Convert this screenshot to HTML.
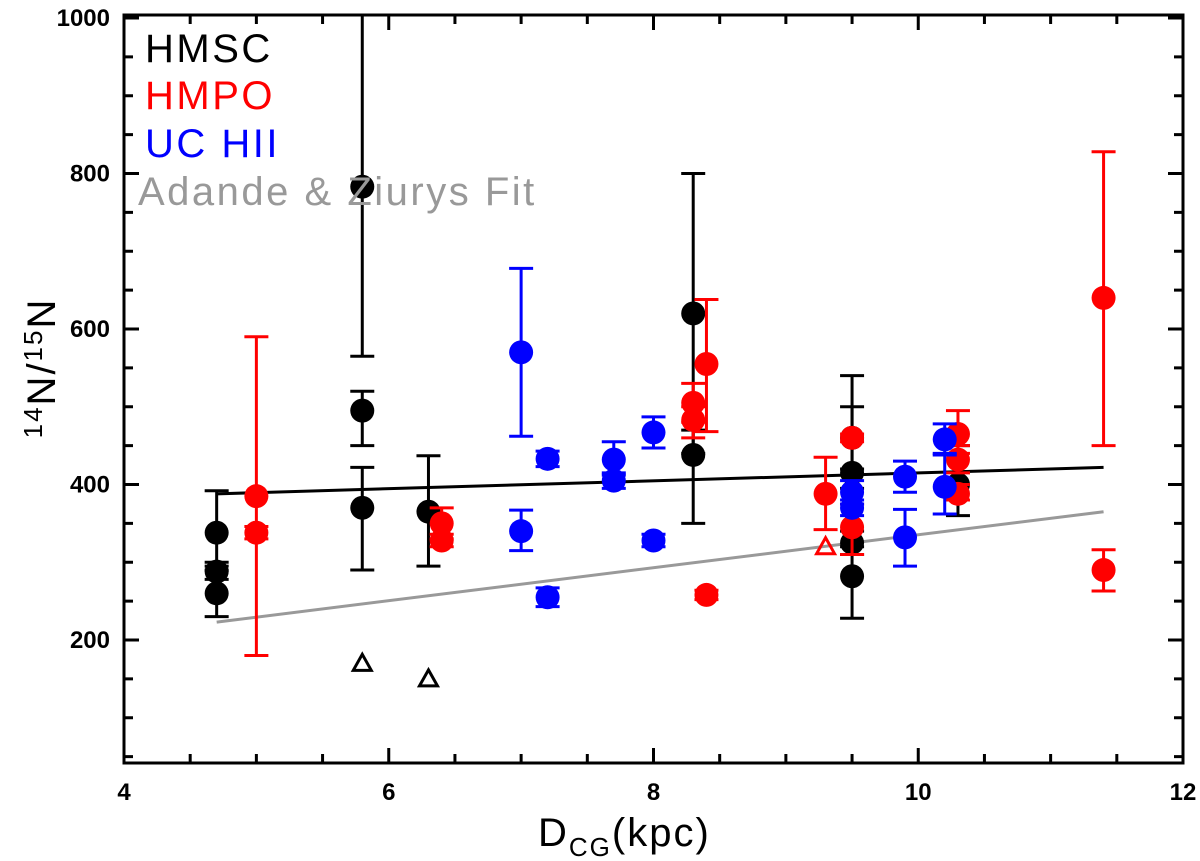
<!DOCTYPE html>
<html><head><meta charset="utf-8"><style>
html,body{margin:0;padding:0;background:#fff;}
svg{display:block;font-family:"Liberation Sans",sans-serif;}
</style></head><body>
<svg id="chart" width="1200" height="861" viewBox="0 0 1200 861" xmlns="http://www.w3.org/2000/svg">
<g id="marks"></g>
<g id="axes"></g>
<g font-size="40" letter-spacing="2.5">
<text x="145" y="62" fill="#000">HMSC</text>
<text x="145" y="109" fill="#ff0000">HMPO</text>
<text x="145" y="157" fill="#0000ff">UC  HII</text>
<text x="138" y="205" fill="#999">Adande &amp; Ziurys Fit</text>
</g>
<text x="538" y="846" font-size="40" letter-spacing="2">D<tspan font-size="26" dy="10">CG</tspan><tspan dy="-10">(kpc)</tspan></text>
<text transform="translate(55,368) rotate(-90)" text-anchor="middle" font-size="40" letter-spacing="2"><tspan font-size="26" dy="-13">14</tspan><tspan dy="13">N/</tspan><tspan font-size="26" dy="-13">15</tspan><tspan dy="13">N</tspan></text>
</svg>
<script>
const xTicks = [4, 6, 8, 10, 12];
const yTicks = [200, 400, 600, 800, 1000];
const hmscX = [4.7, 4.7, 4.7, 5.8, 5.8, 5.8, 6.3, 8.3, 8.3, 9.5, 9.5, 9.5, 9.5, 10.3];
const hmscY = [338, 288, 260, 783, 495, 370, 365, 620, 438, 460, 415, 325, 282, 400];
const hmscLo = [300, 278, 230, 565, 450, 290, 295, 440, 350, 420, 395, 310, 228, 360];
const hmscHi = [392, 295, 290, 1040, 520, 422, 437, 800, 470, 540, 500, 340, 320, 450];
const hmpoX = [5.0, 5.0, 6.4, 6.4, 8.3, 8.3, 8.4, 8.4, 9.3, 9.5, 9.5, 10.3, 10.3, 10.3, 11.4, 11.4];
const hmpoY = [385, 338, 350, 328, 505, 483, 555, 258, 388, 345, 460, 465, 432, 388, 640, 290];
const hmpoLo = [180, 330, 330, 320, 480, 460, 468, 252, 342, 310, 455, 440, 415, 380, 450, 263];
const hmpoHi = [590, 346, 370, 336, 530, 500, 638, 264, 435, 375, 465, 495, 450, 400, 828, 316];
const uchiiX = [7.0, 7.0, 7.2, 7.2, 7.7, 7.7, 8.0, 8.0, 9.5, 9.5, 9.9, 9.9, 10.2, 10.2];
const uchiiY = [570, 340, 433, 255, 432, 405, 467, 328, 390, 370, 410, 332, 458, 397];
const uchiiLo = [462, 315, 423, 243, 412, 395, 447, 320, 375, 360, 390, 295, 438, 362];
const uchiiHi = [678, 367, 443, 267, 455, 415, 487, 336, 405, 380, 430, 368, 478, 440];
const triX = [5.8, 6.3, 9.3];
const triY = [170, 150, 320];
const triColor = ['#000', '#000', '#ff0000'];
const fitX = [4.7, 11.4];
const fitBlack = [388, 422];
const fitGray = [223, 365];

const X0 = 124, X1 = 1183, Y200 = 640, PPU = 155.5 / 200;
const sx = d => X0 + (d - 4) / 8 * (X1 - X0);
const sy = v => Y200 - (v - 200) * PPU;
const NS = 'http://www.w3.org/2000/svg';
const marks = document.getElementById('marks');
const axes = document.getElementById('axes');
function mk(tag, parent, attrs) {
  const e = document.createElementNS(NS, tag);
  for (const k in attrs) e.setAttribute(k, attrs[k]);
  parent.appendChild(e);
  return e;
}
const TOP = 15, BOT = 763;
const cl = v => Math.max(TOP, Math.min(BOT, v));

const lb = mk('line', marks, {x1: sx(fitX[0]), y1: sy(fitBlack[0]), x2: sx(fitX[1]), y2: sy(fitBlack[1]), stroke: '#000', 'stroke-width': 3});


const lg = mk('line', marks, {x1: sx(fitX[0]), y1: sy(fitGray[0]), x2: sx(fitX[1]), y2: sy(fitGray[1]), stroke: '#999', 'stroke-width': 3});



function series(xs, ys, lo, hi, color, name) {
  const g = mk('g', marks, {});
  
  
  for (let i = 0; i < xs.length; i++) {
    const x = sx(xs[i]);
    const eb = mk('path', g, {d: `M${x},${cl(sy(hi[i]))}V${cl(sy(lo[i]))}M${x-12},${sy(lo[i])}H${x+12}` + (sy(hi[i]) > TOP ? `M${x-12},${sy(hi[i])}H${x+12}` : ''), stroke: color, 'stroke-width': 3, fill: 'none'});
    
    
    const c = mk('circle', g, {cx: x, cy: sy(ys[i]), r: 12, fill: color});
    
    
  }
}
series(hmscX, hmscY, hmscLo, hmscHi, '#000', 'hmsc');
series(hmpoX, hmpoY, hmpoLo, hmpoHi, '#ff0000', 'hmpo');
series(uchiiX, uchiiY, uchiiLo, uchiiHi, '#0000ff', 'uchii');
for (let i = 0; i < triX.length; i++) {
  const x = sx(triX[i]), y = sy(triY[i]);
  const t = mk('path', marks, {d: `M${x},${y-9}L${x+9},${y+7}L${x-9},${y+7}Z`, fill: 'none', stroke: triColor[i], 'stroke-width': 3});
  
  
}

const fr = mk('rect', axes, {x: X0, y: TOP, width: X1 - X0, height: BOT - TOP, fill: 'none', stroke: '#000', 'stroke-width': 3});


for (let d = 4; d <= 12.001; d += 0.5) {
  const x = sx(d), major = Math.abs(d - Math.round(d / 2) * 2) < 1e-6;
  const L = major ? 15 : 9;
  const tk = mk('path', axes, {d: `M${x},${BOT}v${-L}M${x},${TOP}v${L}`, stroke: '#000', 'stroke-width': 3});
  
  
}
for (const d of xTicks) {
  const t = mk('text', axes, {x: sx(d), y: 800, 'text-anchor': 'middle', 'font-size': 24, 'font-weight': 'bold'});
  t.textContent = d;
  
  
}
for (let v = 50; v <= 1000; v += 50) {
  const y = sy(v);
  if (y > BOT) continue;
  const L = v % 200 === 0 ? 15 : 9;
  const tk = mk('path', axes, {d: `M${X0},${y}h${L}M${X1},${y}h${-L}`, stroke: '#000', 'stroke-width': 3});
  
  
}
for (const v of yTicks) {
  const t = mk('text', axes, {x: 110, y: sy(v) + 8, 'text-anchor': 'end', 'font-size': 24, 'font-weight': 'bold'});
  t.textContent = v;
  
  
}
</script>
</body></html>
